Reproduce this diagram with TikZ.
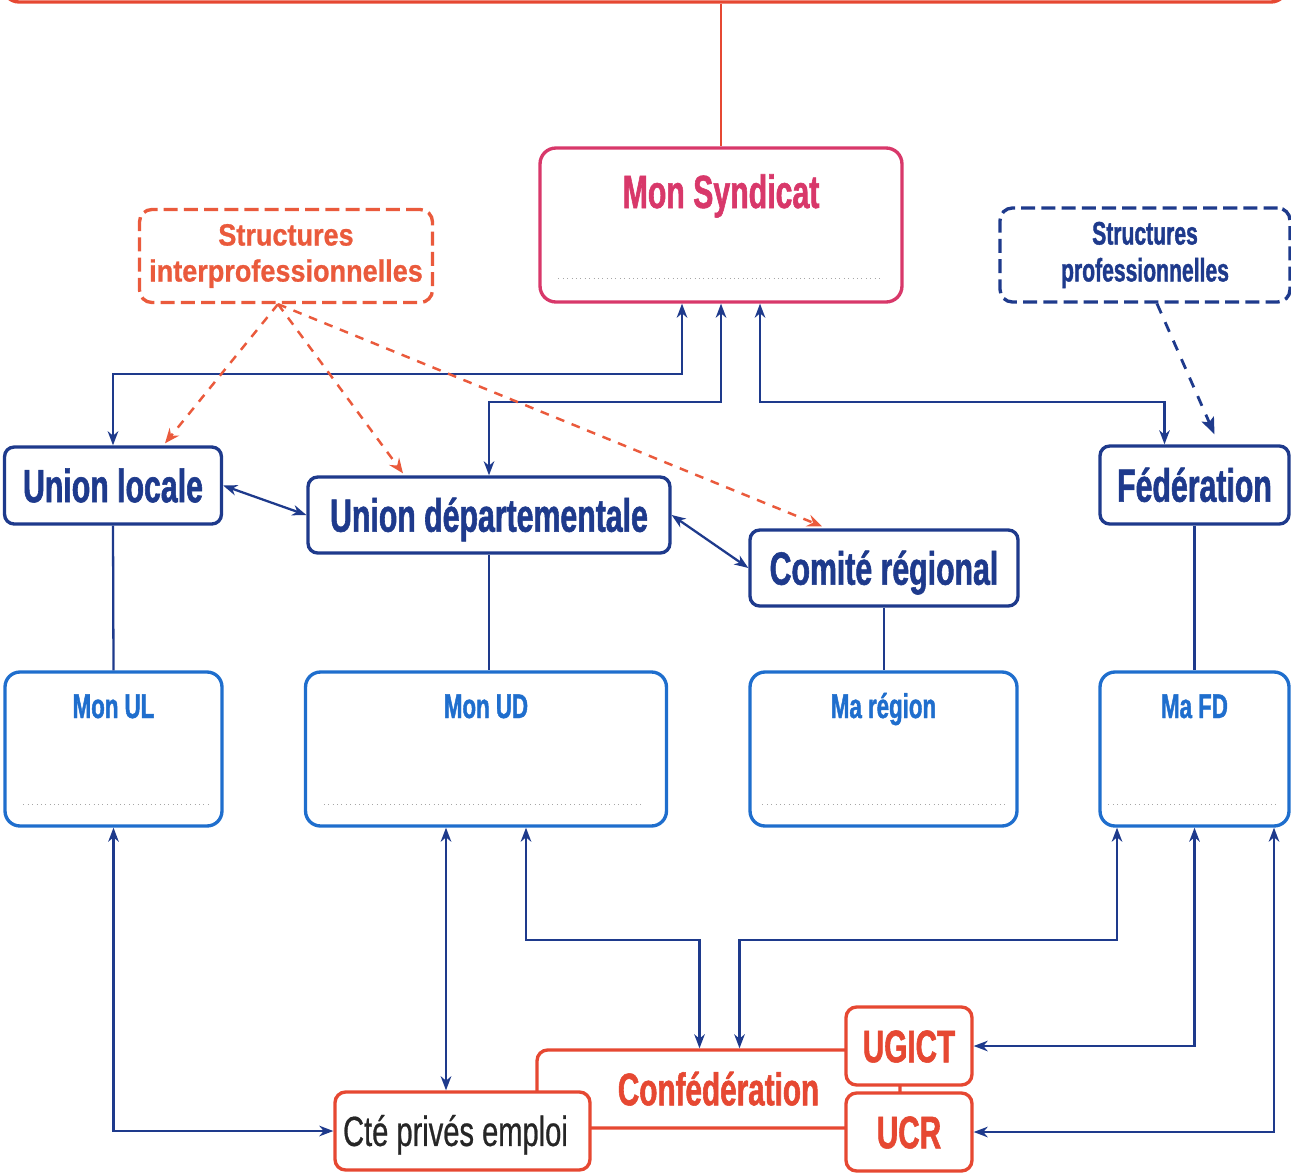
\documentclass[tikz,border=0pt]{standalone}
\usepackage{fontspec}
\setmainfont{Liberation Sans}
\newfontfamily\cond{Liberation Sans}[FakeStretch=0.65, FakeBold=1.2]
\newfontfamily\narr{Liberation Sans}[FakeStretch=0.88, FakeBold=0.8]
\newfontfamily\condrm{Liberation Sans}[FakeStretch=0.69, FakeBold=0.6]
\usetikzlibrary{arrows.meta,calc}
\definecolor{dblue}{HTML}{1E3A8C}
\definecolor{lblue}{HTML}{1F6ECD}
\definecolor{synred}{HTML}{D8386A}
\definecolor{cgtred}{HTML}{E64832}
\definecolor{ored}{HTML}{EA5A3C}
\tikzset{
  unit/.style={draw=dblue, line width=1.9pt, rounded corners=5.5pt, fill=white, text=dblue, inner sep=0pt,
    font=\cond\bfseries\fontsize{26.5}{30}\selectfont, text height=19pt, text depth=0pt},
  mybox/.style={draw=lblue, line width=1.9pt, rounded corners=8.5pt, minimum height=3.08cm},
  mytitle/.style={text=lblue, anchor=base, inner sep=0pt, font=\cond\bfseries\fontsize{19.5}{22}\selectfont},
  confbox/.style={draw=cgtred, line width=1.9pt, rounded corners=6pt, fill=white, inner sep=0pt, minimum height=1.56cm,
    text=cgtred, font=\cond\bfseries\fontsize{26}{30}\selectfont, text height=18.5pt, text depth=0pt},
  biarr/.style={draw=dblue, line width=1.3pt, {Stealth[length=8pt,width=6pt,inset=2.5pt]}-{Stealth[length=8pt,width=6pt,inset=2.5pt]}},
  redarr/.style={draw=ored, line width=1.4pt, dash pattern=on 5pt off 4.5pt, -{Stealth[length=8.5pt,width=7pt,inset=3pt]}},
  bluearr/.style={draw=dblue, line width=1.6pt, dash pattern=on 6pt off 5.5pt, -{Stealth[length=9.5pt,width=7.5pt,inset=2pt]}},
  dots/.style={gray!70, dotted, line width=0.5pt},
}
\begin{document}
\begin{tikzpicture}[x=0.02cm, y=-0.02cm]
\useasboundingbox (0,0) rectangle (1291,1173);
% top frame, cut off by the page edge
\node[draw=cgtred, line width=1.9pt, rounded corners=9pt, minimum width=25.68cm, minimum height=1.68cm] (topbox) at (645,-40){};

% my union
\node[draw=synred, line width=1.9pt, rounded corners=9pt, minimum width=7.24cm, minimum height=3.08cm] (MonSyn) at (721,225){};
\node[text=synred, anchor=base, inner sep=0pt, font=\cond\bfseries\fontsize{26.5}{30}\selectfont] (MonSynT) at (721,208){Mon Syndicat};
\draw[dots] ($(MonSyn.south west)+(20,-25)$) -- ($(MonSyn.south east)+(-22,-25)$);
\draw[cgtred, line width=1.1pt] (MonSyn.north |- topbox.south) -- (MonSyn.north);

% dashed structure boxes
\node[draw=ored, line width=1.9pt, dash pattern=on 8pt off 3.5pt, rounded corners=7pt, minimum width=5.86cm, minimum height=1.86cm,
  text=ored, align=center, inner sep=0pt, font=\narr\bfseries\fontsize{17.5}{20.5}\selectfont] (inter) at (286,256){Structures\\interprofessionnelles};
\node[draw=dblue, line width=1.9pt, dash pattern=on 8pt off 3.5pt, rounded corners=7pt, minimum width=5.80cm, minimum height=1.88cm,
  text=dblue, align=center, inner sep=0pt, font=\cond\bfseries\fontsize{18.5}{21}\selectfont] (pro) at (1145,255){Structures\\professionnelles};

% unions
\node[unit, minimum width=4.34cm, minimum height=1.54cm] (UL) at (113,485.5){Union locale};
\node[unit, minimum width=7.24cm, minimum height=1.52cm] (UD) at (489,515){Union départementale};
\node[unit, minimum width=5.36cm, minimum height=1.52cm] (CR) at (884,568){Comité régional};
\node[unit, minimum width=3.78cm, minimum height=1.56cm] (FED) at (1194.5,485){Fédération};

% my boxes
\node[mybox, minimum width=4.34cm] (MonUL) at (113.5,749){};
\node[mybox, minimum width=7.22cm] (MonUD) at (486,749){};
\node[mybox, minimum width=5.34cm] (MaRegion) at (883.5,749){};
\node[mybox, minimum width=3.78cm] (MaFD) at (1194.5,749){};
\node[mytitle] (MonULT) at (113.5,718){Mon UL};
\node[mytitle] (MonUDT) at (486,718){Mon UD};
\node[mytitle] (MaRegionT) at (883.5,718){Ma région};
\node[mytitle] (MaFDT) at (1194.5,718){Ma FD};
\draw[dots] ($(MonUL.south west)+(20,-23)$) -- ($(MonUL.south east)+(-12,-23)$);
\draw[dots] ($(MonUD.south west)+(20,-23)$) -- ($(MonUD.south east)+(-25,-23)$);
\draw[dots] ($(MaRegion.south west)+(14,-23)$) -- ($(MaRegion.south east)+(-14,-23)$);
\draw[dots] ($(MaFD.south west)+(10,-23)$) -- ($(MaFD.south east)+(-14,-23)$);

% confederation
\node[confbox, minimum width=7.26cm] (conf) at (718.5,1089){Confédération};
\node[confbox, minimum width=5.10cm, text=black!85, font=\condrm\fontsize{24}{28}\selectfont, text height=17pt] (Cte) at (462.5,1131){Cté privés emploi\kern8pt};
\node[confbox, minimum width=2.52cm] (UGICT) at (909,1046){UGICT};
\node[confbox, minimum width=2.52cm] (UCR) at (909,1132){UCR};

% links to my union
\draw[biarr] (UL.north) |- ($(MonSyn.south)+(-39,70)$) -- ($(MonSyn.south)+(-39,0)$);
\draw[biarr] (UD.north) |- ($(MonSyn.south)+(0,98)$) -- (MonSyn.south);
\draw[biarr] ($(FED.north)+(-30,0)$) |- ($(MonSyn.south)+(39,98)$) -- ($(MonSyn.south)+(39,0)$);

% dashed arrows
\draw[redarr] ($(inter.south)+(-8,0)$) -- ($(UL.north)+(52,-2)$);
\draw[redarr] ($(inter.south)+(-8,0)$) -- ($(UD.north)+(-86,-2)$);
\draw[redarr] ($(inter.south)+(-8,0)$) -- ($(CR.north)+(-62,-2)$);
\draw[bluearr] ($(pro.south)+(12,0)$) -- ($(FED.north)+(20,-10)$);

% between unions
\draw[biarr] (UL.east) -- (UD.west);
\draw[biarr] (UD.east) -- (CR.west);
\draw[dblue, line width=1.3pt] (UL.south) -- (MonUL.north);
\draw[dblue, line width=1.3pt] (UD.south) -- (UD.south |- MonUD.north);
\draw[dblue, line width=1.3pt] (CR.south) -- (CR.south |- MaRegion.north);
\draw[dblue, line width=1.3pt] (FED.south) -- (MaFD.north);

% down to the confederation
\coordinate (ud1) at ($(MonUD.south)+(-40,0)$);
\coordinate (ud2) at ($(MonUD.south)+(40,0)$);
\coordinate (fd1) at ($(MaFD.south)+(-77.5,0)$);
\coordinate (fd3) at ($(MaFD.south)+(79.5,0)$);
\draw[biarr] (MonUL.south) |- (Cte.west);
\draw[biarr] (ud1) -- (ud1 |- Cte.north);
\draw[biarr] (ud2) -- ++(0,112) -| ($(conf.north)+(-19,0)$);
\draw[biarr] (fd1) -- ++(0,112) -| ($(conf.north)+(21,0)$);
\draw[biarr] (MaFD.south) |- (UGICT.east);
\draw[biarr] (fd3) |- (UCR.east);
\end{tikzpicture}
\end{document}
